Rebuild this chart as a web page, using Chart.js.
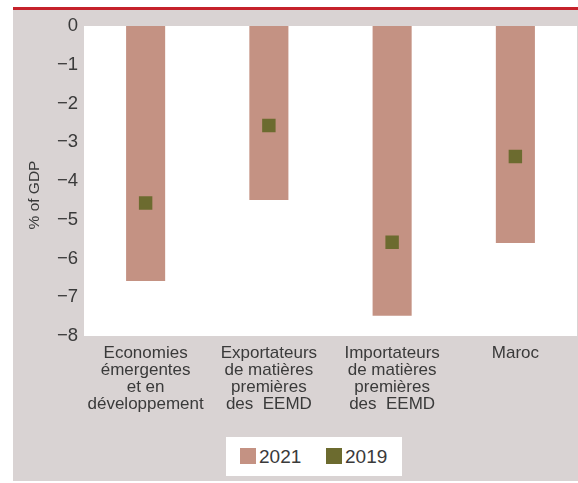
<!DOCTYPE html>
<html>
<head>
<meta charset="utf-8">
<script src="https://cdn.jsdelivr.net/npm/chart.js@4"></script>
<style>
  body { margin: 0; background: #fff; }
  #wrap { position: relative; width: 578px; height: 483px; overflow: hidden; }
  #panel { position: absolute; left: 13px; top: 10px; width: 565px; height: 471px; background: #d9d3d3; }
  #rule { position: absolute; left: 13px; top: 7px; width: 565px; height: 3px; background: #c5222b; }
  #chart { position: absolute; left: 0; top: 0; }
  #legend {
    position: absolute; left: 226px; top: 437px; width: 176px; height: 39px;
    background: #fff; font-family: "Liberation Sans", Arial, sans-serif; font-size: 19px; color: #3a3a3a;
  }
  .item { position: absolute; top: 0; height: 39px; line-height: 39px; }
  .swatch { position: absolute; top: 11px; width: 16px; height: 16px; }
</style>
</head>
<body>
<div id="wrap">
  <div id="rule"></div>
  <div id="panel"></div>
  <canvas id="chart" width="578" height="483"></canvas>
  <div id="legend"></div>
</div>
<script>
// categories (multi-line labels)
const categories = [
  ['Economies', 'émergentes', 'et en', 'développement'],
  ['Exportateurs', 'de matières', 'premières', 'des  EEMD'],
  ['Importateurs', 'de matières', 'premières', 'des  EEMD'],
  ['Maroc']
];
const values2021 = [-6.58, -4.49, -7.48, -5.6];
const values2019 = [-4.57, -2.57, -5.58, -3.37];
const seriesLabels = ['2021', '2019'];
const yTitle = '% of GDP';

const colour2021 = '#c49283';
const colour2019 = '#6c6b2f';
const textColour = '#3a3a3a';
const fontFamily = '"Liberation Sans", Arial, sans-serif';

// white plot area on top of the grey panel
const plotBackground = {
  id: 'plotBackground',
  beforeDraw(chart) {
    const { ctx, chartArea } = chart;
    ctx.save();
    ctx.fillStyle = '#ffffff';
    ctx.fillRect(chartArea.left, chartArea.top, chartArea.right - chartArea.left, chartArea.bottom - chartArea.top);
    ctx.restore();
  }
};

// y title sits a bit below the middle of the axis in the original
const axisTitle = {
  id: 'axisTitle',
  afterDraw(chart) {
    const { ctx } = chart;
    ctx.save();
    ctx.translate(35, 195);
    ctx.rotate(-Math.PI / 2);
    ctx.font = '15.5px ' + fontFamily;
    ctx.fillStyle = textColour;
    ctx.textAlign = 'center';
    ctx.textBaseline = 'middle';
    ctx.fillText(yTitle, 0, 0);
    ctx.restore();
  }
};

const chart = new Chart(document.getElementById('chart').getContext('2d'), {
  data: {
    labels: categories,
    datasets: [
      {
        type: 'line',
        label: seriesLabels[1],
        data: values2019,
        showLine: false,
        pointStyle: 'rect',
        pointRadius: 9.5,
        pointHoverRadius: 9.5,
        pointBorderWidth: 0,
        backgroundColor: colour2019,
        borderColor: colour2019,
        order: 0
      },
      {
        type: 'bar',
        label: seriesLabels[0],
        data: values2021,
        backgroundColor: colour2021,
        categoryPercentage: 1,
        barPercentage: 0.317,
        order: 1
      }
    ]
  },
  options: {
    responsive: false,
    animation: false,
    layout: { autoPadding: false, padding: { left: 20, right: 1, top: 26, bottom: 47 } },
    plugins: {
      legend: { display: false },
      tooltip: { enabled: false }
    },
    scales: {
      x: {
        grid: { display: false, drawTicks: false },
        border: { display: false },
        ticks: {
          color: textColour,
          font: { family: fontFamily, size: 17, lineHeight: 1.0 },
          padding: 9,
          maxRotation: 0,
          autoSkip: false
        },
        afterFit(scale) {
          scale.height = 100;
          scale.paddingLeft = 0;
          scale.paddingRight = 0;
        }
      },
      y: {
        min: -8,
        max: 0,
        grid: { display: false, drawTicks: false },
        border: { display: false },
        ticks: {
          stepSize: 1,
          color: textColour,
          font: { family: fontFamily, size: 18.5 },
          padding: 6,
          callback: v => v === 0 ? '0' : '\u2212' + Math.abs(v)
        },
        afterFit(scale) { scale.width = 64; }
      }
    }
  },
  plugins: [plotBackground, axisTitle]
});

// html legend built from the datasets
const legend = document.getElementById('legend');
const legendItems = [
  { label: seriesLabels[0], colour: colour2021, x: 14 },
  { label: seriesLabels[1], colour: colour2019, x: 100 }
];
legendItems.forEach(it => {
  const sw = document.createElement('div');
  sw.className = 'swatch';
  sw.style.left = it.x + 'px';
  sw.style.background = it.colour;
  legend.appendChild(sw);
  const tx = document.createElement('div');
  tx.className = 'item';
  tx.style.left = (it.x + 19) + 'px';
  tx.textContent = it.label;
  legend.appendChild(tx);
});
</script>
</body>
</html>
